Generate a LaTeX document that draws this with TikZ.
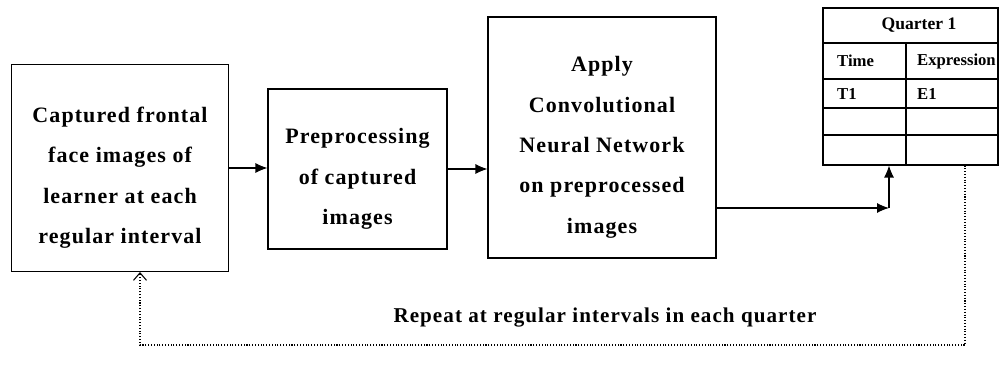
\documentclass[tikz,border=0pt]{standalone}
\usepackage{fontspec}
\setmainfont{Liberation Serif}[LetterSpace=5]
\newfontfamily\tablefont{Liberation Serif}
\newcommand{\lowstrut}{\rule{0pt}{7mm}}
\usetikzlibrary{arrows.meta}
\begin{document}
\begin{tikzpicture}[
    stage/.style={draw, semithick, align=center, font=\bfseries\fontsize{12.5}{23}\selectfont},
    cell/.style={anchor=west, font=\tablefont\bfseries\fontsize{9.5}{12}\selectfont},
    flow/.style={semithick, -{Latex[length=2.4mm,width=2mm]}},
    back/.style={densely dotted, semithick, -{Straight Barb[length=1.5mm,width=2.6mm]}}
  ]
  \useasboundingbox (0,0) rectangle (19.98,-7.34);
  % processing stages
  \node[stage, minimum width=4.34cm, minimum height=4.14cm] (capture) at (2.40,-3.36)
    {\lowstrut Captured frontal\\face images of\\learner at each\\regular interval};
  \node[stage, minimum width=3.58cm, minimum height=3.20cm] (prep) at (7.15,-3.38)
    {\lowstrut Preprocessing\\of captured\\images};
  \node[stage, minimum width=4.56cm, minimum height=4.82cm] (cnn) at (12.04,-2.75)
    {\lowstrut Apply\\Convolutional\\Neural Network\\on preprocessed\\images};
  % result table
  \node[draw, semithick, minimum width=3.50cm, minimum height=3.14cm, inner sep=0pt] (tbl) at (18.21,-1.73) {};
  \draw[semithick] (16.46,-0.86) -- (19.96,-0.86);
  \draw[semithick] (16.46,-1.58) -- (19.96,-1.58);
  \draw[semithick] (16.46,-2.16) -- (19.96,-2.16);
  \draw[semithick] (16.46,-2.70) -- (19.96,-2.70);
  \draw[semithick] (18.12,-0.86) -- (18.12,-3.30);
  \node[font=\tablefont\bfseries\fontsize{10}{12}\selectfont] (qtr) at (18.38,-0.51) {Quarter 1};
  \node[cell] (time) at (16.62,-1.22) {Time};
  \node[cell] (expr) at (18.22,-1.22) {Expression};
  \node[cell] (tone) at (16.62,-1.87) {T1};
  \node[cell] (eone) at (18.22,-1.87) {E1};
  % connectors
  \coordinate (bend) at (17.78,-4.16);
  \coordinate (loopR) at (19.30,-6.90);
  \coordinate (loopL) at (2.80,-6.90);
  \draw[flow] (capture.east) -- (capture.east -| prep.west);
  \draw[flow] (prep.east) -- (prep.east -| cnn.west);
  \draw[flow] (cnn.east |- bend) -- (bend);
  \draw[flow] (bend) -- (bend |- tbl.south);
  \draw[back] (tbl.south -| loopR) -- (loopR) -- (loopL) -- (loopL |- capture.south);
  \node[font=\bfseries\fontsize{12}{14}\selectfont] (repeat) at (12.10,-6.36)
    {Repeat at regular intervals in each quarter};
\end{tikzpicture}
\end{document}
